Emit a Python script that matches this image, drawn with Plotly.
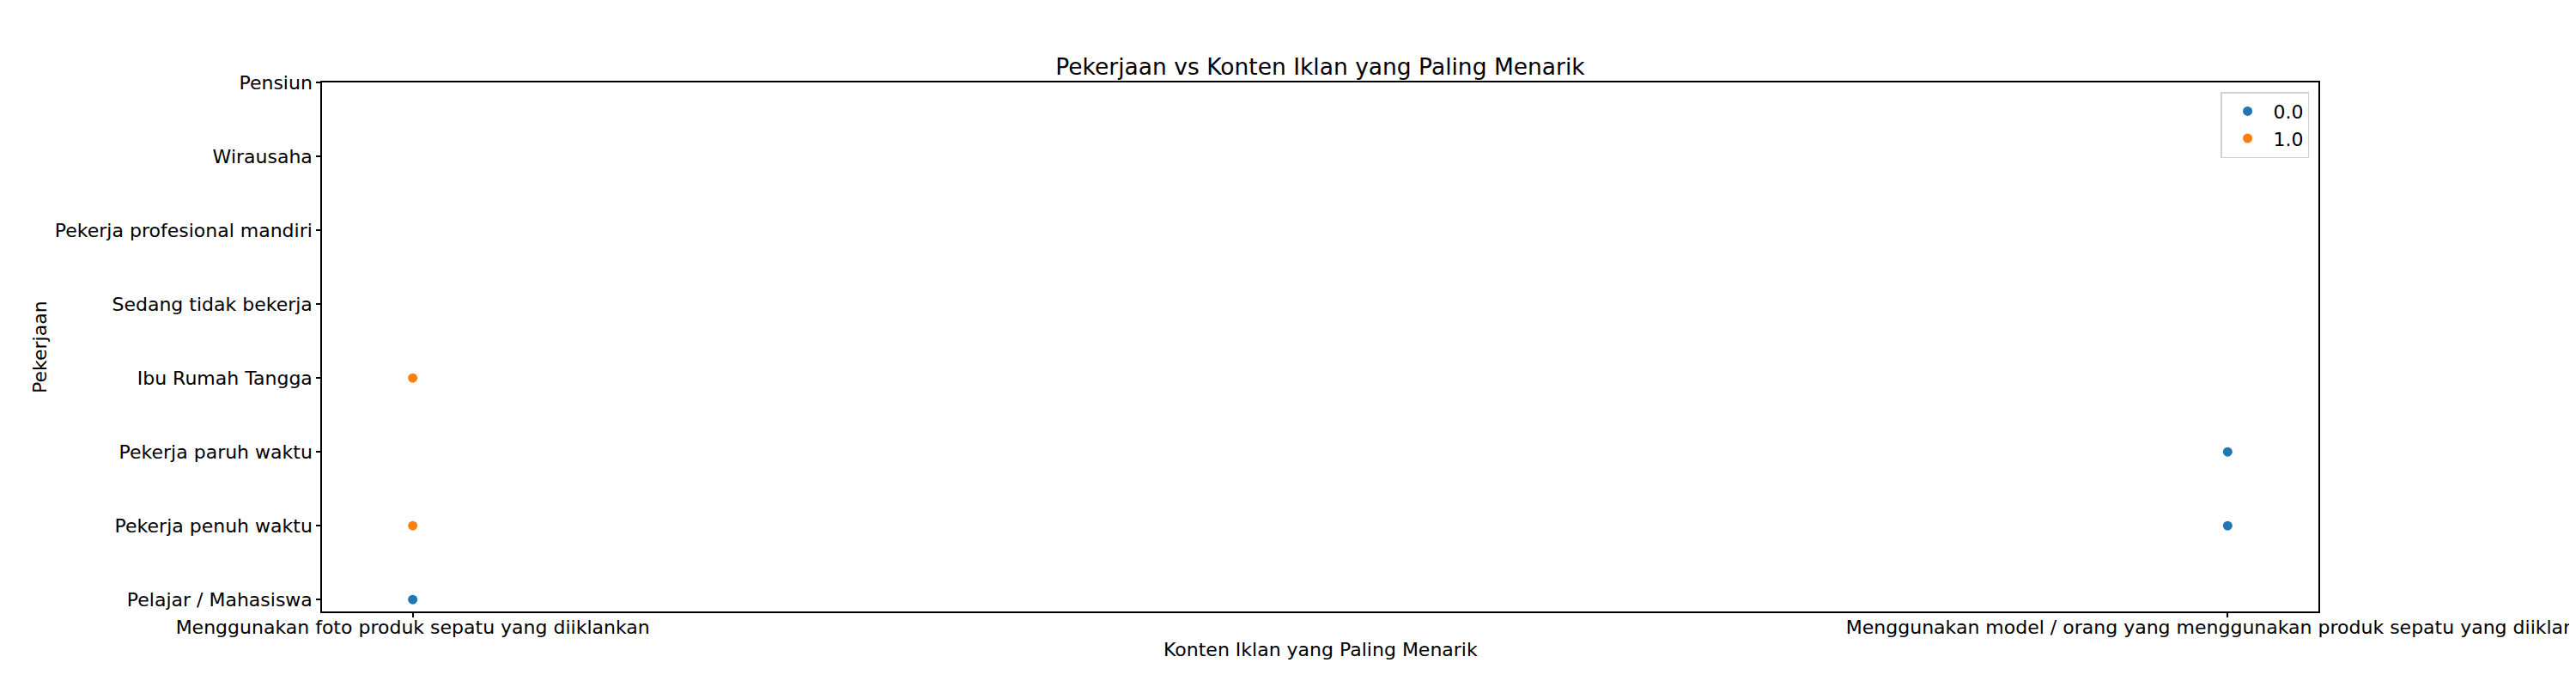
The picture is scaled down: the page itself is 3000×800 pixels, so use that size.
import plotly.graph_objects as go

# Data
x_categories = [
    "Menggunakan foto produk sepatu yang diiklankan",
    "Menggunakan model / orang yang menggunakan produk sepatu yang diiklankan",
]
y_categories = [
    "Pelajar / Mahasiswa",
    "Pekerja penuh waktu",
    "Pekerja paruh waktu",
    "Ibu Rumah Tangga",
    "Sedang tidak bekerja",
    "Pekerja profesional mandiri",
    "Wirausaha",
    "Pensiun",
]
series_names = ["0.0", "1.0"]
series0_x = [x_categories[0], x_categories[1], x_categories[1]]
series0_y = ["Pelajar / Mahasiswa", "Pekerja paruh waktu", "Pekerja penuh waktu"]
series1_x = [x_categories[0], x_categories[0]]
series1_y = ["Ibu Rumah Tangga", "Pekerja penuh waktu"]
colors = ["#1f77b4", "#ff7f0e"]

FONT = "DejaVu Sans"

fig = go.Figure()
for name, xs, ys, c in [
    (series_names[0], series0_x, series0_y, colors[0]),
    (series_names[1], series1_x, series1_y, colors[1]),
]:
    fig.add_trace(go.Scatter(
        x=xs, y=ys, mode="markers", name=name,
        marker=dict(color=c, size=11, line=dict(width=0)),
    ))

# page body has an 8px margin; compensate so the plot lands where the reference has it
L, T = 367, 88
PW, PH = 2325, 616
fig.update_layout(
    width=3000, height=800,
    margin=dict(l=L, r=3000 - L - PW, t=T, b=800 - T - PH, autoexpand=False),
    paper_bgcolor="white", plot_bgcolor="white",
    font=dict(family=FONT, size=22, color="black"),
    title=dict(
        text="Pekerjaan vs Konten Iklan yang Paling Menarik",
        font=dict(family=FONT, size=26.5, color="black"),
        x=0.5, xanchor="center", xref="paper",
        y=(800 - 70) / 800, yanchor="middle", yref="container",
    ),
    showlegend=True,
    legend=dict(
        x=0.9953, xanchor="right", y=0.982, yanchor="top",
        bordercolor="#d0d0d0", borderwidth=1.5, bgcolor="rgba(255,255,255,0.8)",
        font=dict(family=FONT, size=22, color="black"),
        tracegroupgap=0, itemwidth=50,
    ),
    annotations=[
        dict(text="Konten Iklan yang Paling Menarik", xref="paper", yref="paper",
             x=0.5, y=0, xanchor="center", yanchor="middle", yshift=-44,
             showarrow=False, font=dict(family=FONT, size=22, color="black")),
        dict(text="Pekerjaan", xref="paper", yref="paper",
             x=0, y=0.5, xanchor="center", yanchor="middle", xshift=-329,
             textangle=-90, showarrow=False,
             font=dict(family=FONT, size=22, color="black")),
    ],
)

fig.update_xaxes(
    type="category", categoryorder="array", categoryarray=x_categories,
    range=[-0.05, 1.05],
    showline=True, mirror=True, linecolor="black", linewidth=1.5,
    showgrid=False, zeroline=False,
    ticks="outside", ticklen=5, tickwidth=1.5, tickcolor="black",
    tickfont=dict(family=FONT, size=22, color="black"),
    ticklabelstandoff=-7,
    automargin=False,
)
fig.update_yaxes(
    type="category", categoryorder="array", categoryarray=y_categories,
    range=[-0.16, 7.0],
    showline=True, mirror=True, linecolor="black", linewidth=1.5,
    showgrid=False, zeroline=False,
    ticks="outside", ticklen=5, tickwidth=1.5, tickcolor="black",
    tickfont=dict(family=FONT, size=22, color="black"),
    automargin=False,
)

fig.write_html("out.html")
